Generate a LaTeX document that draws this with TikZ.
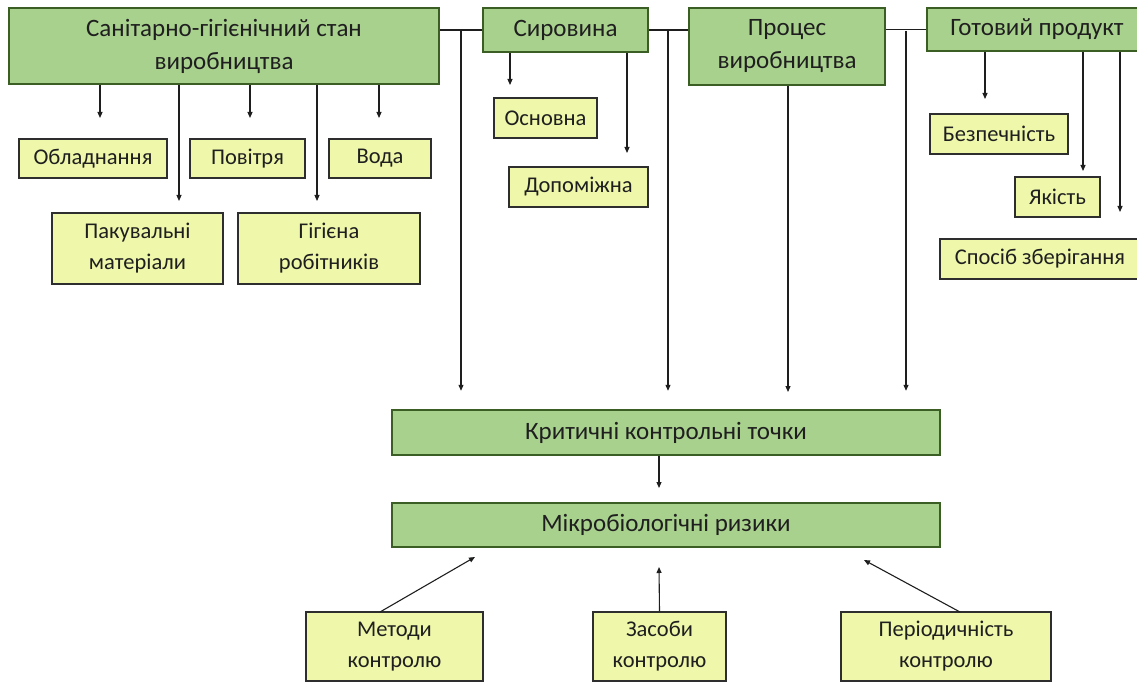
\documentclass[tikz,border=0pt]{standalone}
\usepackage{fontspec}
\setmainfont{Carlito}
\usetikzlibrary{arrows.meta}
\definecolor{grnF}{HTML}{A9D18E}
\definecolor{grnB}{HTML}{3B5E24}
\definecolor{ylwF}{HTML}{EFF7AA}
\definecolor{ylwB}{HTML}{2E2E2E}
\definecolor{lnC}{HTML}{1E1E1E}
\tikzset{
  grn/.style={draw=grnB, fill=grnF, line width=2.4pt, inner sep=0pt, align=center,
    font=\fontsize{25}{33}\selectfont, text=black!88},
  ylw/.style={draw=ylwB, fill=ylwF, line width=1.3pt, inner sep=0pt, align=center,
    font=\fontsize{22.5}{31}\selectfont, text=black!88},
  ln/.style={draw=lnC, line width=1.1pt},
  arr/.style={ln, -{Triangle[length=6pt,width=5pt]}},
}
\begin{document}
\begin{tikzpicture}[x=1pt,y=-1pt]
\useasboundingbox (0,0) rectangle (1137,684);
% top green boxes
\node[grn, minimum width=430, minimum height=76] (san) at (224,46) {Санітарно-гігієнічний стан\\виробництва};
\node[grn, minimum width=165, minimum height=44] (syr) at (565.5,30) {Сировина};
\node[grn, minimum width=196, minimum height=77] (proc) at (787,46.5) {Процес\\виробництва};
\node[grn, minimum width=220, minimum height=43] (got) at (1037,29.5) {Готовий продукт};
% middle green boxes
\node[grn, minimum width=548, minimum height=45] (crit) at (666,432.5) {Критичні контрольні точки};
\node[grn, minimum width=548, minimum height=44] (mic) at (666,525) {Мікробіологічні ризики};
% yellow boxes
\node[ylw, minimum width=148, minimum height=39] (obl) at (93,158.5) {Обладнання};
\node[ylw, minimum width=115, minimum height=39] (pov) at (247.5,158.5) {Повітря};
\node[ylw, minimum width=102, minimum height=39] (vod) at (380,158.5) {Вода};
\node[ylw, minimum width=171, minimum height=71] (pak) at (137.5,248.5) {Пакувальні\\матеріали};
\node[ylw, minimum width=182, minimum height=71] (gig) at (329,248.5) {Гігієна\\робітників};
\node[ylw, minimum width=103, minimum height=40] (osn) at (545.5,118) {Основна};
\node[ylw, minimum width=139, minimum height=40] (dop) at (578.5,187) {Допоміжна};
\node[ylw, minimum width=138, minimum height=40] (bez) at (999,134) {Безпечність};
\node[ylw, minimum width=85, minimum height=40] (yak) at (1057.5,197) {Якість};
\node[ylw, minimum width=200, minimum height=40] (spo) at (1040,259) {Спосіб зберігання};
\node[ylw, minimum width=177, minimum height=69] (met) at (394.5,646.5) {Методи\\контролю};
\node[ylw, minimum width=133, minimum height=69] (zas) at (659.5,646.5) {Засоби\\контролю};
\node[ylw, minimum width=210, minimum height=69] (per) at (946,646.5) {Періодичність\\контролю};
% horizontal links between top boxes
\draw[ln] (san.east |- syr.west) -- (syr.west);
\draw[ln] (syr.east) -- (syr.east -| proc.west);
\draw[ln] (proc.east |- got.west) -- (got.west);
% junction coordinates
\coordinate (j1) at (461,31);
\coordinate (j2) at (668,31);
\coordinate (j3) at (906,31);
\draw[arr, shorten >=18pt] (j1) -- (j1 |- crit.north);
\draw[arr, shorten >=18pt] (j2) -- (j2 |- crit.north);
\draw[arr, shorten >=18pt] (j3) -- (j3 |- crit.north);
\coordinate (p1) at (788,392);
\draw[arr] (p1 |- proc.south) -- (p1);
% sanitary children
\coordinate (a1) at (100,118);
\coordinate (a2) at (250,118);
\coordinate (a3) at (379,118);
\coordinate (a4) at (179,201);
\coordinate (a5) at (317,201);
\foreach \c in {a1,a2,a3,a4,a5} \draw[arr] (\c |- san.south) -- (\c);
% raw material children
\coordinate (b1) at (510,85);
\coordinate (b2) at (627,153);
\foreach \c in {b1,b2} \draw[arr] (\c |- syr.south) -- (\c);
% product children
\coordinate (c1) at (985,99);
\coordinate (c2) at (1083,171);
\coordinate (c3) at (1120,212);
\foreach \c in {c1,c2,c3} \draw[arr] (\c |- got.south) -- (\c);
% crit -> micro
\coordinate (d1) at (659,488);
\draw[arr] (d1 |- crit.south) -- (d1);
% bottom arrows
\coordinate (e1) at (380,612);
\coordinate (e1t) at (475,557);
\draw[arr] (e1) -- (e1t);
\coordinate (e2t) at (659,567);
\draw[arr] (zas.north) -- (e2t);
\coordinate (e3) at (960,612);
\coordinate (e3t) at (864,560);
\draw[arr] (e3) -- (e3t);
\end{tikzpicture}
\end{document}
